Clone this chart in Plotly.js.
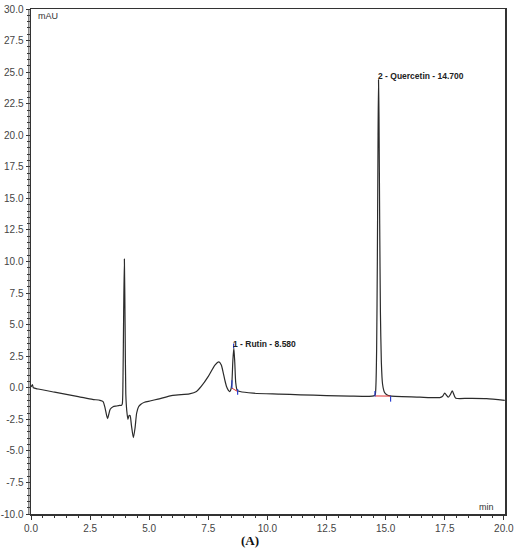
<!DOCTYPE html>
<html>
<head>
<meta charset="utf-8">
<script src="https://cdn.plot.ly/plotly-3.0.1.min.js"></script>
<style>html,body{margin:0;padding:0;background:#fff;}#chart{width:517px;height:550px;}</style>
</head>
<body>
<div id="chart"></div>
<script>
// Chromatogram (retention time in min, absorbance in mAU)
const timeMin = [
  0.0, 0.06, 0.1, 0.3, 1.0, 2.0, 2.6, 2.92,
  3.05, 3.12, 3.2, 3.24, 3.29, 3.35, 3.47, 3.6, 3.75,
  3.82, 3.86, 3.89, 3.92, 3.95, 3.98, 4.01, 4.05, 4.1, 4.15, 4.19, 4.25, 4.33, 4.4, 4.47, 4.55, 4.65, 4.8,
  5.03, 5.37, 6.0, 6.7, 7.0, 7.2, 7.5, 7.78, 7.95, 8.05, 8.13, 8.2, 8.27, 8.35, 8.41,
  8.46, 8.5, 8.54, 8.58, 8.62, 8.66, 8.72, 8.84, 9.4, 10.5, 11.4, 12.5, 13.5, 14.3, 14.5,
  14.56, 14.59, 14.62, 14.65, 14.68, 14.7, 14.72, 14.75, 14.78, 14.82, 14.87, 14.95, 15.05, 15.2,
  16.45, 17.29, 17.4, 17.5, 17.58, 17.65, 17.75, 17.82, 17.9, 17.97, 18.5, 19.27, 20.04
];
const absorbance = [
  0.05, 0.25, 0.0, -0.1, -0.35, -0.7, -0.92, -1.0,
  -1.1, -1.5, -2.2, -2.45, -2.1, -1.7, -1.5, -1.45, -1.4,
  -1.4, -1.3, 0.5, 6.0, 10.2, 5.0, -0.5, -1.8, -2.5, -2.2, -2.2, -3.0, -3.95, -3.2, -2.0, -1.5, -1.3, -1.15,
  -1.05, -0.9, -0.6, -0.48, -0.3, 0.1, 0.9, 1.8, 2.05, 1.8, 1.2, 0.6, 0.1, -0.2, -0.3,
  -0.1, 0.5, 2.2, 3.15, 2.0, 0.4, -0.2, -0.3, -0.43, -0.5, -0.56, -0.62, -0.66, -0.68, -0.64,
  -0.55, 0.2, 3.0, 10.0, 20.0, 24.4, 21.5, 13.0, 6.0, 2.0, 0.3, -0.35, -0.55, -0.65,
  -0.75, -0.78, -0.7, -0.43, -0.6, -0.75, -0.5, -0.25, -0.6, -0.83, -0.84, -0.86, -1.0
];

// Integration marks: peak start/end (blue) and baselines (red)
const boundaryT = [8.5, 8.5, null, 8.74, 8.74, null, 8.57, 8.57, null, 14.55, 14.55, null, 15.21, 15.21];
const boundaryY = [-0.03, 0.6, null, -0.1, -0.55, null, 3.15, 3.5, null, -0.25, -0.7, null, -0.64, -1.1];
const baselineT = [8.5, 8.74, null, 14.55, 15.21];
const baselineY = [-0.03, -0.3, null, -0.65, -0.66];

// Peak labels
const peakTimes = [8.58, 14.7];
const peakLabelY = [3.48, 24.73];
const peakLabels = ["1 - Rutin - 8.580", "2 - Quercetin - 14.700"];

// Ticks
const xTickVals = [0, 2.5, 5, 7.5, 10, 12.5, 15, 17.5, 20];
const xTickText = ["0.0", "2.5", "5.0", "7.5", "10.0", "12.5", "15.0", "17.5", "20.0"];
const yTickVals = [-10, -7.5, -5, -2.5, 0, 2.5, 5, 7.5, 10, 12.5, 15, 17.5, 20, 22.5, 25, 27.5, 30];
const yTickText = ["-10.0", "-7.5", "-5.0", "-2.5", "0.0", "2.5", "5.0", "7.5", "10.0", "12.5", "15.0", "17.5", "20.0", "22.5", "25.0", "27.5", "30.0"];

const traces = [
  {x: timeMin, y: absorbance, type: 'scatter', mode: 'lines',
   line: {color: '#2b2b2b', width: 1.2, shape: 'spline', smoothing: 0.6}, hoverinfo: 'skip'},
  {x: baselineT, y: baselineY, type: 'scatter', mode: 'lines',
   line: {color: '#e03030', width: 1}, hoverinfo: 'skip', connectgaps: false},
  {x: boundaryT, y: boundaryY, type: 'scatter', mode: 'lines',
   line: {color: '#2a3fd0', width: 1.2}, hoverinfo: 'skip', connectgaps: false}
];

const tickFont = {family: 'Liberation Sans, Arial, sans-serif', size: 10, color: '#444'};
const annotations = peakLabels.map((txt, i) => ({
  x: peakTimes[i], y: peakLabelY[i], xref: 'x', yref: 'y', text: '<b>' + txt + '</b>',
  showarrow: false, xanchor: 'left', yanchor: 'middle', xshift: -3,
  font: {family: 'Liberation Sans, Arial, sans-serif', size: 8.5, color: '#222'}
}));
annotations.push({x: 0.011, y: 0.986, xref: 'paper', yref: 'paper', text: 'mAU', showarrow: false,
  xanchor: 'left', yanchor: 'middle', font: {family: 'Liberation Sans, Arial, sans-serif', size: 9, color: '#333'}});
annotations.push({x: 0.982, y: 0.014, xref: 'paper', yref: 'paper', text: 'min', showarrow: false,
  xanchor: 'right', yanchor: 'middle', font: {family: 'Liberation Sans, Arial, sans-serif', size: 9, color: '#333'}});
annotations.push({x: 0.462, y: -0.052, xref: 'paper', yref: 'paper', text: '<b>(A)</b>', showarrow: false,
  xanchor: 'center', yanchor: 'middle', font: {family: 'Liberation Serif, Times New Roman, serif', size: 13, color: '#111'}});

const layout = {
  width: 517, height: 550,
  margin: {l: 31, r: 12, t: 9, b: 36, pad: 0},
  paper_bgcolor: '#fff', plot_bgcolor: '#fff',
  showlegend: false,
  xaxis: {
    range: [0, 20.05], tickvals: xTickVals, ticktext: xTickText, tickfont: tickFont,
    ticks: 'outside', ticklen: 4, tickwidth: 1, tickcolor: '#333',
    showline: true, linecolor: '#333', linewidth: 1.5, mirror: true,
    showgrid: false, zeroline: false,
    minor: {ticks: 'outside', ticklen: 2.5, dtick: 0.5, tick0: 0, tickcolor: '#333', tickwidth: 1, showgrid: false}
  },
  yaxis: {
    range: [-10, 30], tickvals: yTickVals, ticktext: yTickText, tickfont: tickFont,
    ticks: 'outside', ticklen: 4, tickwidth: 1, tickcolor: '#333',
    showline: true, linecolor: '#333', linewidth: 1.5, mirror: true,
    showgrid: false, zeroline: false,
    minor: {ticks: 'outside', ticklen: 2.5, dtick: 0.5, tick0: 0, tickcolor: '#333', tickwidth: 1, showgrid: false}
  },
  shapes: [
    {type: 'line', xref: 'paper', yref: 'paper', x0: -0.0045, x1: -0.0045, y0: 0, y1: 1,
     line: {color: '#444', width: 1}}
  ],
  annotations: annotations
};

Plotly.newPlot('chart', traces, layout, {displayModeBar: false, staticPlot: true});
</script>
</body>
</html>
